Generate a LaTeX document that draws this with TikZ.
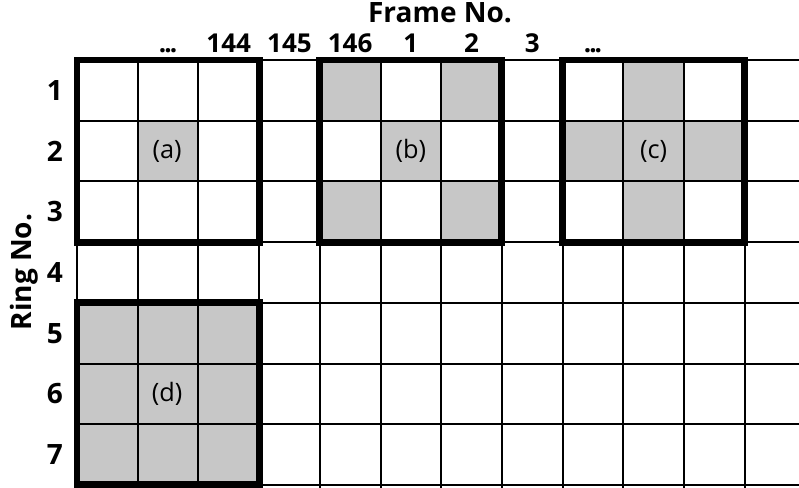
\documentclass[tikz,border=0pt]{standalone}
\usepackage{fontspec}
\setmainfont{Open Sans}
\newcommand\framedots{.\kern-1.5pt.\kern-1.5pt.}
\begin{document}
\begin{tikzpicture}[
    x=0.75pt, y=-0.75pt,
    grid/.style={draw=black, line width=1.5pt},
    shaded/.style={fill=black!22},
    window/.style={draw=black, line width=5.2pt},
    axis/.style={font=\bfseries\fontsize{21}{24}\selectfont},
    num/.style={font=\bfseries\fontsize{19.5}{22}\selectfont, inner sep=0pt},
    ringnum/.style={font=\bfseries\fontsize{21}{24}\selectfont, inner sep=0pt},
    tag/.style={font=\fontsize{19}{22}\selectfont, inner sep=0pt}
]
\useasboundingbox (0,0) rectangle (799,488);

% shaded cells (column, row)
\foreach \c/\r in {2/2, 5/1,7/1,6/2,5/3,7/3, 10/1,9/2,10/2,11/2,10/3,
                   1/5,2/5,3/5,1/6,2/6,3/6,1/7,2/7,3/7}
    \fill[shaded] (77+\c*60.7-60.7,60+\r*60.7-60.7) rectangle ++(60.7,60.7);

% grid
\foreach \i in {0,...,11}
    \draw[grid] (77+\i*60.7,60) -- (77+\i*60.7,488);
\foreach \j in {0,...,7}
    \draw[grid] (77,60+\j*60.7) -- (799,60+\j*60.7);

% windows
\draw[window] (77,60) rectangle (259.1,242.1);
\draw[window] (319.8,60) rectangle (501.9,242.1);
\draw[window] (562.6,60) rectangle (744.7,242.1);
\draw[window] (77,302.8) rectangle (259.1,484.9);

% cell labels
\node[tag] (a) at (167.05,151.05) {(a)};
\node[tag] (b) at (410.85,151.05) {(b)};
\node[tag] (c) at (653.65,151.05) {(c)};
\node[tag] (d) at (167.05,393.85) {(d)};

% frame numbers
\foreach \c/\t in {2/\framedots, 3/144, 4/145, 5/146, 6/1, 7/2, 8/3, 9/\framedots}
    \node[num, anchor=base] (f\c) at (77+\c*60.7-30.35,52.5) {\t};

% ring numbers
\foreach \r in {1,...,7}
    \node[ringnum, anchor=east] (r\r) at (63,60+\r*60.7-30.35) {\r};

\node[axis] (frame) at (440,13) {Frame No.};
\node[axis, rotate=90] (ring) at (24,272) {Ring No.};
\end{tikzpicture}
\end{document}
